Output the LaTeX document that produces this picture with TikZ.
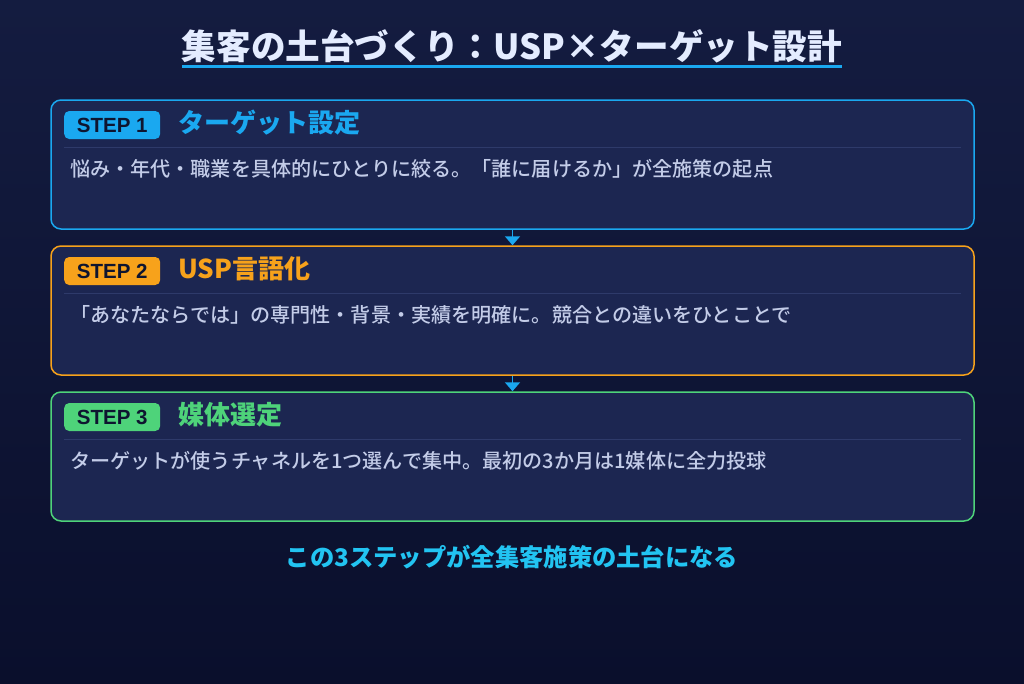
\documentclass[tikz,border=0pt]{standalone}
\usepackage{fontspec}
\setmainfont{Noto Sans CJK JP}
\newfontfamily\badgefont{Liberation Sans}
\newfontfamily\bodyfont{Noto Sans CJK JP Medium}
\usetikzlibrary{arrows.meta}
\definecolor{bgtop}{HTML}{141C40}
\definecolor{bgbot}{HTML}{0A0F2C}
\definecolor{boxfill}{HTML}{1C2651}
\definecolor{divline}{HTML}{2E3A6A}
\definecolor{cblue}{HTML}{1AA8F0}
\definecolor{corange}{HTML}{F7A21B}
\definecolor{cgreen}{HTML}{4ED37A}
\definecolor{titlec}{HTML}{E4ECFF}
\definecolor{bodyc}{HTML}{C3CCE8}
\definecolor{badgetext}{HTML}{0E1530}
\definecolor{footc}{HTML}{22C4F2}
\tikzset{
  stepbox/.style={draw, fill=boxfill, line width=1.5pt, rounded corners=10pt, minimum width=923pt, minimum height=129pt, inner sep=0pt},
  badge/.style={rounded corners=5pt, minimum width=96pt, minimum height=28pt, inner sep=0pt, text=badgetext, font=\badgefont\fontsize{20.5}{20.5}\selectfont\bfseries, anchor=west},
  heading/.style={anchor=west, inner sep=0pt, font=\fontsize{26}{26}\selectfont\bfseries},
  bodytext/.style={anchor=west, inner sep=0pt, text=bodyc, font=\bodyfont\fontsize{20.1}{20.1}\selectfont},
  divider/.style={draw=divline, line width=1pt},
  flowarrow/.style={draw=cblue, line width=1.8pt, -{Triangle[width=15pt,length=9pt]}}
}
\begin{document}
\begin{tikzpicture}[x=1pt,y=-1pt]
\shade[top color=bgtop,bottom color=bgbot] (0,0) rectangle (1024,683);
\useasboundingbox (0,0) rectangle (1024,683);

% title
\node[inner sep=0pt, text=titlec, font=\fontsize{34.6}{34.6}\selectfont\bfseries] (title) at (512,46) {集客の土台づくり：USP×ターゲット設計};
\draw[cblue, line width=3pt] (title.west |- 0,66) -- (title.east |- 0,66);

% boxes
\node[stepbox, draw=cblue] (box1) at (512.5,164.5) {};
\node[stepbox, draw=corange] (box2) at (512.5,310.5) {};
\node[stepbox, draw=cgreen] (box3) at (512.5,456.5) {};

% step 1
\node[badge, fill=cblue] (b1) at (64,125) {STEP 1};
\node[heading, text=cblue] (h1) at (178,123) {ターゲット設定};
\coordinate (d1a) at (64,147); \coordinate (d1b) at (961,147);
\draw[divider] (d1a) -- (d1b);
\node[bodytext] (t1) at (70,169) {悩み・年代・職業を具体的にひとりに絞る。「誰に届けるか」が全施策の起点};

% step 2
\node[badge, fill=corange] (b2) at (64,271) {STEP 2};
\node[heading, text=corange] (h2) at (178,269) {USP言語化};
\coordinate (d2a) at (64,293); \coordinate (d2b) at (961,293);
\draw[divider] (d2a) -- (d2b);
\node[bodytext] (t2) at (70,315) {「あなたならでは」の専門性・背景・実績を明確に。競合との違いをひとことで};

% step 3
\node[badge, fill=cgreen] (b3) at (64,417) {STEP 3};
\node[heading, text=cgreen] (h3) at (178,415) {媒体選定};
\coordinate (d3a) at (64,439); \coordinate (d3b) at (961,439);
\draw[divider] (d3a) -- (d3b);
\node[bodytext] (t3) at (70,461) {ターゲットが使うチャネルを1つ選んで集中。最初の3か月は1媒体に全力投球};

% arrows
\draw[flowarrow] (box1.south) -- (box2.north);
\draw[flowarrow] (box2.south) -- (box3.north);

% footer
\node[inner sep=0pt, text=footc, font=\fontsize{24.3}{24.3}\selectfont\bfseries] (foot) at (512,557) {この3ステップが全集客施策の土台になる};
\end{tikzpicture}
\end{document}
